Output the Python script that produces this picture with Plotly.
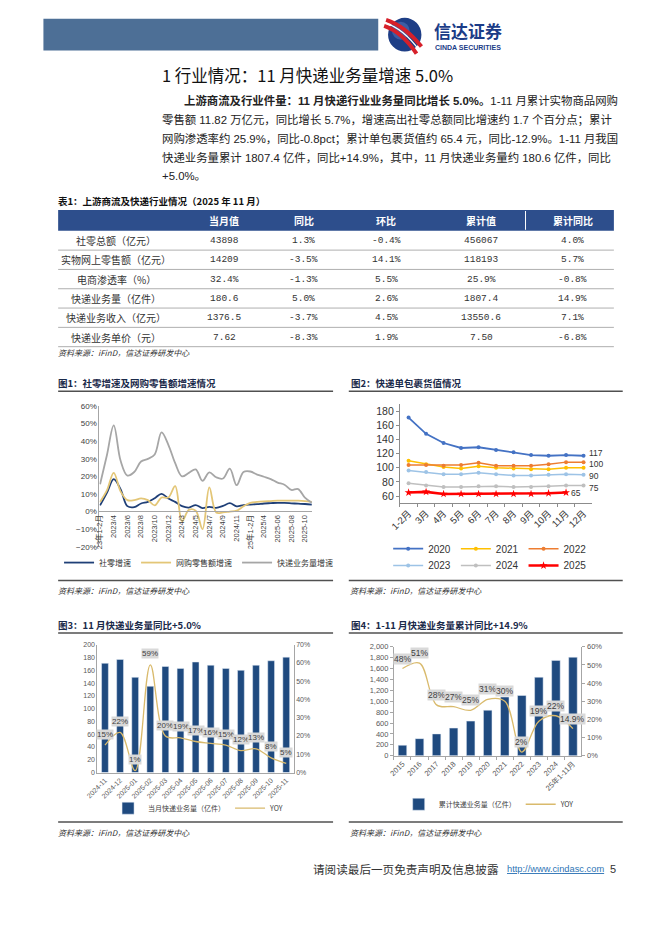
import plotly.graph_objects as go

W, H = 662, 936
def px(x): return x / W
def py(y): return 1 - y / H

SANS = "Liberation Sans, Noto Sans CJK SC, sans-serif"
CJK = "Noto Sans CJK SC, Liberation Sans, sans-serif"
MONO = "Liberation Mono, Noto Sans CJK SC, monospace"

# ---------------- data ----------------
table_header = ["当月值", "同比", "环比", "累计值", "累计同比"]
table_rows = ["社零总额（亿元）", "实物网上零售额（亿元）", "电商渗透率（%）",
              "快递业务量（亿件）", "快递业务收入（亿元）", "快递业务单价（元）"]
col_month = ["43898", "14209", "32.4%", "180.6", "1376.5", "7.62"]
col_yoy = ["1.3%", "-3.5%", "-1.3%", "5.0%", "-3.7%", "-8.3%"]
col_mom = ["-0.4%", "14.1%", "5.5%", "2.6%", "4.5%", "1.9%"]
col_cum = ["456067", "118193", "25.9%", "1807.4", "13550.6", "7.50"]
col_cum_yoy = ["4.0%", "5.7%", "-0.8%", "14.9%", "7.1%", "-6.8%"]

c1_months = ["23年1-2月", "2023/3", "2023/4", "2023/5", "2023/6", "2023/7", "2023/8", "2023/9",
             "2023/10", "2023/11", "2023/12", "24年1-2月", "2024/3", "2024/4", "2024/5", "2024/6",
             "2024/7", "2024/8", "2024/9", "2024/10", "2024/11", "2024/12", "25年1-2月", "2025/3",
             "2025/4", "2025-05", "2025-06", "2025-07", "2025-08", "2025-09", "2025-10", "2025-11"]
c1_ticks = c1_months[::2]
c1_retail = [3.5, 10.6, 18.4, 12.7, 3.1, 2.5, 4.6, 5.5, 7.6, 10.1, 7.4, 5.5, 3.1, 2.3, 3.7, 2.0,
             2.7, 2.1, 3.2, 4.8, 3.0, 3.7, 4.0, 4.2, 4.6, 4.8, 5.0, 4.9, 4.7, 4.5, 4.3, 4.0]
c1_online = [5.5, 12.0, 22.0, 11.5, 6.5, 6.5, 7.5, 6.5, 3.5, 8.0, 8.0, 14.5, -5.5, 1.0, 0.5, -10.0,
             13.8, -0.5, -0.5, 0.0, 0.5, 3.0, 5.0, 5.5, 5.8, 6.0, 6.2, 6.2, 6.2, 6.2, 6.0, 5.5]
c1_express = [15.5, 32.0, 49.0, 29.0, 20.5, 22.5, 28.5, 30.0, 32.5, 45.0, 38.0, 27.5, 20.0, 22.0,
              24.0, 17.5, 22.3, 19.5, 18.8, 24.4, 15.0, 22.5, 22.8, 21.0, 19.8, 18.5, 16.5, 15.3,
              12.3, 12.8, 7.9, 5.0]

c2_months = ["1-2月", "3月", "4月", "5月", "6月", "7月", "8月", "9月", "10月", "11月", "12月"]
v2020 = [171, 148, 135, 128, 129, 125, 122, 118, 117, 118, 117]
v2021 = [110, 105, 101, 99, 102, 100, 99, 98, 98, 100, 100]
v2022 = [104, 104, 103, 104, 107, 103, 103, 103, 105, 108, 108]
v2023 = [96, 94, 91, 91, 93, 91, 89, 89, 90, 91, 90]
v2024 = [78, 75, 73, 73, 74, 74, 73, 73, 74, 75, 75]
v2025 = [65, 66, 63, 63, 63, 63, 63, 63, 64, 65]

c3_months = ["2024-11", "2024-12", "2025-01", "2025-02", "2025-03", "2025-04", "2025-05",
             "2025-06", "2025-07", "2025-08", "2025-09", "2025-10", "2025-11"]
c3_volume = [171, 177, 149, 135, 166, 163, 173, 168, 163, 160, 168, 175, 180.6]
c3_yoy = [15, 22, 1, 59, 20, 19, 17, 16, 15, 12, 13, 8, 5]

c4_years = ["2015", "2016", "2017", "2018", "2019", "2020", "2021", "2022", "2023", "2024", "25年1-11月"]
c4_volume = [192, 313, 400, 507, 635, 835, 1077, 1105, 1440, 1750, 1807.4]
c4_yoy = [48, 51, 28, 27, 25, 31, 30, 2, 19, 22, 14.9]

# ---------------- figure ----------------
fig = go.Figure()

# Chart 1
for name, vals, color in [("社零增速", c1_retail, "#1F3F77"),
                          ("网购零售额增速", c1_online, "#E3C677"),
                          ("快递业务量增速", c1_express, "#A6A6A6")]:
    fig.add_trace(go.Scatter(x=c1_months, y=vals, name=name, mode="lines",
                             line=dict(color=color, width=1.8, shape="spline", smoothing=1.0),
                             xaxis="x", yaxis="y", legend="legend", hoverinfo="skip"))

# Chart 2
c2_series = [("2020", v2020, "#4472C4", "circle", 1.8, "legend2"),
             ("2021", v2021, "#FFC000", "circle", 1.5, "legend2"),
             ("2022", v2022, "#ED7D31", "circle", 1.5, "legend2"),
             ("2023", v2023, "#9DC3E6", "circle", 1.5, "legend3"),
             ("2024", v2024, "#BFBFBF", "circle", 1.5, "legend3"),
             ("2025", v2025, "#FF0000", "star", 2.6, "legend3")]
for name, vals, color, sym, lw, lg in c2_series:
    fig.add_trace(go.Scatter(x=c2_months[:len(vals)], y=vals, name=name, mode="lines+markers",
                             line=dict(color=color, width=lw),
                             marker=dict(color=color, size=6 if sym == "star" else 4, symbol=sym),
                             xaxis="x2", yaxis="y2", legend=lg, hoverinfo="skip"))
# small vertical offsets keep the crowded end labels from colliding
label_nudge = {"2020": 3, "2021": 3.3, "2023": -1.6, "2024": -3}
for name, vals, color, sym, lw, lg in c2_series:
    if name == "2022":
        continue
    fig.add_annotation(x=c2_months[len(vals) - 1], y=vals[-1], xref="x2", yref="y2",
                       text=f"{vals[-1]:.0f}", showarrow=False, xanchor="left", yanchor="middle",
                       xshift=4, yshift=label_nudge.get(name, 0), borderpad=0,
                       font=dict(size=8.5, color="#333", family=SANS))

# Chart 3
fig.add_trace(go.Bar(x=c3_months, y=c3_volume, name="当月快递业务量（亿件）", marker_color="#1F4A7F",
                     width=0.45, xaxis="x3", yaxis="y3", legend="legend4", hoverinfo="skip"))
fig.add_trace(go.Scatter(x=c3_months, y=c3_yoy, name="YOY", mode="lines",
                         line=dict(color="#D9BA6C", width=1.3, shape="spline"),
                         xaxis="x3", yaxis="y5", legend="legend4", hoverinfo="skip"))
for i, v in enumerate(c3_yoy):
    fig.add_annotation(x=i, y=v, xref="x3", yref="y5", text=f"{v}%", showarrow=False,
                       yshift=11, bgcolor="#D9D9D9", borderpad=0,
                       font=dict(size=8, color="#404040", family=SANS))

# Chart 4
fig.add_trace(go.Bar(x=c4_years, y=c4_volume, name="累计快递业务量（亿件）", marker_color="#1F4A7F",
                     width=0.5, xaxis="x4", yaxis="y4", legend="legend5", hoverinfo="skip"))
fig.add_trace(go.Scatter(x=c4_years, y=c4_yoy, name="YOY", mode="lines",
                         line=dict(color="#D9BA6C", width=1.3, shape="spline"),
                         xaxis="x4", yaxis="y6", legend="legend5", hoverinfo="skip"))
for i, v in enumerate(c4_yoy):
    fig.add_annotation(x=i, y=v, xref="x4", yref="y6", text=f"{v:g}%", showarrow=False,
                       yshift=10, bgcolor="#D9D9D9", borderpad=0,
                       font=dict(size=8.5, color="#404040", family=SANS))

# ---------------- page decorations ----------------
def note(x, y, text, size, color="#222", family=CJK, xanchor="left", yanchor="middle"):
    fig.add_annotation(x=px(x), y=py(y), xref="paper", yref="paper", text=text, showarrow=False,
                       xanchor=xanchor, yanchor=yanchor, borderpad=0,
                       font=dict(size=size, color=color, family=family))

def rect(x0, y0, x1, y1, fill):
    fig.add_shape(type="rect", xref="paper", yref="paper", x0=px(x0), x1=px(x1),
                  y0=py(y1), y1=py(y0), fillcolor=fill, line=dict(width=0))

def hline(x0, x1, y, color, width):
    fig.add_shape(type="line", xref="paper", yref="paper", x0=px(x0), x1=px(x1),
                  y0=py(y), y1=py(y), line=dict(color=color, width=width))

def curve(pts, color, width):
    (a, b), (c, d), (e, f) = pts
    path = f"M {px(a)},{py(b)} Q {px(c)},{py(d)} {px(e)},{py(f)}"
    fig.add_shape(type="path", xref="paper", yref="paper", path=path,
                  line=dict(color=color, width=width))

# header bar and logo
rect(32, 15, 373, 47, "#4D6F96")
fig.add_shape(type="circle", xref="paper", yref="paper", x0=px(383), x1=px(417), y0=py(48), y1=py(14),
              fillcolor="#1E3E86", line=dict(width=0))
fig.add_shape(type="circle", xref="paper", yref="paper", x0=px(387), x1=px(405), y0=py(36), y1=py(18),
              fillcolor="#5A7CC0", opacity=0.5, line=dict(width=0))
curve([(381, 16), (400, 22), (417, 43)], "#D6202A", 4)
curve([(379, 22), (397, 28), (412, 50)], "#D6202A", 4)
curve([(380, 19), (399, 25), (415, 47)], "white", 1.2)
note(429, 27, "<b>信达证券</b>", 17, "#1B3C87", CJK)
note(430, 43.5, "<b>CINDA SECURITIES</b>", 7, "#1B3C87", SANS)

# title and paragraph
note(152, 72, "1 行业情况：11 月快递业务量增速 5.0%", 16.5, "#111", CJK)
para = [
    (174, 97, "<b>上游商流及行业件量：11 月快递行业业务量同比增长 5.0%。</b>1-11 月累计实物商品网购"),
    (152, 117, "零售额 11.82 万亿元，同比增长 5.7%，增速高出社零总额同比增速约 1.7 个百分点；累计"),
    (152, 136, "网购渗透率约 25.9%，同比-0.8pct；累计单包裹货值约 65.4 元，同比-12.9%。1-11 月我国"),
    (152, 155, "快递业务量累计 1807.4 亿件，同比+14.9%，其中，11 月快递业务量约 180.6 亿件，同比"),
    (152, 174, "+5.0%。"),
]
for x, y, t in para:
    note(x, y, t, 11.4, "#222", SANS)

# table
note(46, 199, "<b>表1：上游商流及快递行业情况（2025 年 11 月）</b>", 9.5, "#111", CJK)
rect(47, 208, 613, 229, "#2D4E8C")
fig.add_shape(type="line", xref="paper", yref="paper", x0=px(523), x1=px(523), y0=py(209), y1=py(228),
              line=dict(color="white", width=1))
col_x = [216, 297, 381, 478, 571]
for cx, h in zip(col_x, table_header):
    note(cx, 218.5, f"<b>{h}</b>", 10, "white", CJK, xanchor="center")
row_h = 19.5
for i, lab in enumerate(table_rows):
    cy = 229 + row_h * (i + 0.5)
    note(106, cy, lab, 10, "#333", CJK, xanchor="center")
    for cx, col in zip(col_x, [col_month, col_yoy, col_mom, col_cum, col_cum_yoy]):
        note(cx, cy, col[i], 9.5, "#333", MONO, xanchor="center")
    hline(47, 613, 229 + row_h * (i + 1), "#9A9A9A", 0.8)
note(46, 352, "<i>资料来源：iFinD，信达证券研发中心</i>", 8, "#333", CJK)

# chart captions / frame lines / sources
note(46, 383, "<b>图1：社零增速及网购零售额增速情况</b>", 9.5, "#1A2A4A", CJK)
note(344, 383, "<b>图2：快递单包裹货值情况</b>", 9.5, "#1A2A4A", CJK)
note(46, 627, "<b>图3：11 月快递业务量同比+5.0%</b>", 9.5, "#1A2A4A", CJK)
note(344, 627, "<b>图4：1-11 月快递业务量累计同比+14.9%</b>", 9.5, "#1A2A4A", CJK)
for x0, x1 in [(47, 327), (343, 622)]:
    hline(x0, x1, 391, "#505050", 1.5)
    hline(x0, x1, 582, "#505050", 1.5)
    hline(x0, x1, 635, "#505050", 1.5)
    hline(x0, x1, 826, "#505050", 1.5)
note(46, 592, "<i>资料来源：iFinD，信达证券研发中心</i>", 8, "#333", CJK)
note(343, 592, "<i>资料来源：iFinD，信达证券研发中心</i>", 8, "#333", CJK)
note(46, 837, "<i>资料来源：iFinD，信达证券研发中心</i>", 8, "#333", CJK)
note(343, 837, "<i>资料来源：iFinD，信达证券研发中心</i>", 8, "#333", CJK)

# footer
note(306, 873, "请阅读最后一页免责声明及信息披露", 11.6, "#333", CJK)
note(503, 873, "<u>http://www.cindasc.com</u>", 9.3, "#2E74B5", SANS)
note(608, 873, "5", 11, "#333", SANS)

# ---------------- axes ----------------
tick_font = dict(size=8, color="#404040", family=SANS)
small_font = dict(size=7, color="#595959", family=SANS)
axis_line = "#A6A6A6"

leg_common = dict(orientation="h", xanchor="center", yanchor="middle", bgcolor="rgba(0,0,0,0)",
                  itemwidth=30, tracegroupgap=0)

fig.update_layout(
    width=W, height=H, margin=dict(l=0, r=0, t=0, b=0), autosize=False,
    paper_bgcolor="white", plot_bgcolor="rgba(0,0,0,0)", showlegend=True,
    font=dict(family=SANS),
    xaxis=dict(domain=[px(89), px(306)], anchor="free", position=py(512), type="category",
               range=[-0.1, 31.1], tickmode="array", tickvals=c1_ticks, ticktext=c1_ticks,
               tickangle=-90, tickfont=dict(size=7.5, color="#404040", family=SANS),
               showline=True, linecolor=axis_line, linewidth=1, showgrid=False, zeroline=False,
               ticks=""),
    yaxis=dict(domain=[py(548), py(406)], anchor="x", range=[-20, 60], dtick=10, ticksuffix="%",
               tickfont=tick_font, showline=True, linecolor=axis_line, showgrid=False,
               zeroline=False, ticks=""),
    xaxis2=dict(domain=[px(395), px(591)], anchor="y2", type="category", range=[-0.5, 10.5],
                tickangle=-45, tickfont=dict(size=9.5, color="#333", family=SANS),
                showline=True, linecolor="#8C8C8C", ticks="outside", ticklen=3, tickcolor="#8C8C8C",
                tickson="boundaries", showgrid=False, zeroline=False),
    yaxis2=dict(domain=[py(504), py(404)], anchor="x2", range=[50, 190], dtick=20,
                tickfont=dict(size=10.5, color="#333", family=SANS), showline=True,
                linecolor="#8C8C8C", ticks="outside", ticklen=3, tickcolor="#8C8C8C",
                showgrid=False, zeroline=False),
    xaxis3=dict(domain=[px(87), px(287)], anchor="y3", type="category", range=[-0.5, 12.5],
                tickangle=-45, tickfont=small_font, showline=True, linecolor=axis_line,
                ticks="", showgrid=False, zeroline=False),
    yaxis3=dict(domain=[py(776), py(647)], anchor="x3", range=[0, 200], dtick=20,
                tickfont=small_font, showline=True, linecolor=axis_line, showgrid=False,
                zeroline=False, ticks=""),
    yaxis5=dict(overlaying="y3", side="right", anchor="x3", range=[0, 70], dtick=10,
                ticksuffix="%", tickfont=small_font, showline=True, linecolor=axis_line,
                showgrid=False, zeroline=False, ticks=""),
    xaxis4=dict(domain=[px(389), px(580)], anchor="y4", type="category", range=[-0.5, 10.5],
                tickangle=-45, tickfont=dict(size=7.5, color="#595959", family=SANS),
                showline=True, linecolor=axis_line, ticks="outside", ticklen=3,
                tickcolor=axis_line, tickson="boundaries", showgrid=False, zeroline=False),
    yaxis4=dict(domain=[py(759), py(649)], anchor="x4", range=[0, 2000], dtick=200,
                tickformat=",", tickfont=dict(size=7.5, color="#595959", family=SANS),
                showline=True, linecolor=axis_line, ticks="outside", ticklen=3,
                tickcolor=axis_line, showgrid=False, zeroline=False),
    yaxis6=dict(overlaying="y4", side="right", anchor="x4", range=[0, 60], dtick=10,
                ticksuffix="%", tickfont=dict(size=7.5, color="#595959", family=SANS),
                showline=True, linecolor=axis_line, ticks="outside", ticklen=3,
                tickcolor=axis_line, showgrid=False, zeroline=False),
    legend=dict(x=px(190), y=py(564), font=dict(size=8, color="#333", family=CJK), **leg_common),
    legend2=dict(x=px(487), y=py(550), font=dict(size=10, color="#333", family=SANS), **leg_common),
    legend3=dict(x=px(487), y=py(567), font=dict(size=10, color="#333", family=SANS), **leg_common),
    legend4=dict(x=px(190), y=py(812), font=dict(size=7, color="#404040", family=CJK), **leg_common),
    legend5=dict(x=px(486), y=py(808), font=dict(size=7, color="#404040", family=CJK), **leg_common),
)

fig.write_html("out.html", config={"displayModeBar": False},
               post_script="document.body.style.margin='0';")
